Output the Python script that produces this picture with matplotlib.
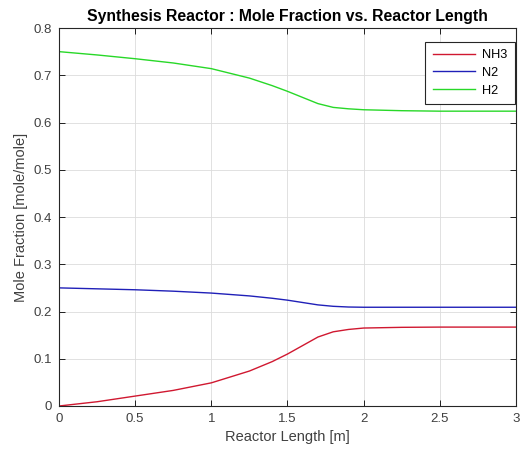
import numpy as np
import matplotlib.pyplot as plt

plt.rcParams['font.family'] = ['Liberation Sans', 'DejaVu Sans']

# Mole fraction profiles along the reactor
length = [0, 0.25, 0.5, 0.75, 1.0, 1.25, 1.4, 1.5, 1.6, 1.7, 1.8, 1.9, 2.0, 2.25, 2.5, 2.75, 3.0]
nh3 = [0, 0.009, 0.021, 0.033, 0.049, 0.074, 0.094, 0.110, 0.128, 0.146, 0.157, 0.162, 0.165, 0.1665, 0.167, 0.167, 0.167]
n2 = [0.250, 0.248, 0.246, 0.243, 0.239, 0.233, 0.228, 0.224, 0.219, 0.214, 0.211, 0.2095, 0.209, 0.209, 0.209, 0.209, 0.209]
h2 = [0.750, 0.743, 0.735, 0.726, 0.714, 0.694, 0.678, 0.666, 0.653, 0.640, 0.632, 0.629, 0.627, 0.625, 0.624, 0.624, 0.624]

fig = plt.figure(figsize=(5.23, 4.57), dpi=100)
ax = fig.add_axes([0.1128, 0.1116, 0.8738, 0.8271])

ax.plot(length, nh3, color='#d01830', lw=1, label='NH3')
ax.plot(length, n2, color='#2020b8', lw=1, label='N2')
ax.plot(length, h2, color='#28d828', lw=1, label='H2')

ax.set_xlim(0, 3)
ax.set_ylim(0, 0.8)
ax.set_xticks(np.arange(0, 3.01, 0.5))
ax.set_xticklabels(['0', '0.5', '1', '1.5', '2', '2.5', '3'])
ax.set_yticks(np.arange(0, 0.81, 0.1))
ax.set_yticklabels(['0', '0.1', '0.2', '0.3', '0.4', '0.5', '0.6', '0.7', '0.8'])
ax.tick_params(direction='in', top=True, right=True, labelsize=9.5,
               labelcolor='#404040', length=4, width=0.6, pad=5)
ax.grid(True, color='#dcdcdc', lw=0.6)
for s in ax.spines.values():
    s.set_linewidth(0.8)
    s.set_color('#262626')

ax.set_title('Synthesis Reactor : Mole Fraction vs. Reactor Length',
             fontsize=11.3, fontweight='bold', pad=5)
ax.set_xlabel('Reactor Length [m]', fontsize=10.5, color='#404040')
ax.set_ylabel('Mole Fraction [mole/mole]', fontsize=10.5, color='#404040')

leg = ax.legend(loc='upper right', bbox_to_anchor=(0.997, 0.963), borderaxespad=0,
                fontsize=9.2, fancybox=False, framealpha=1, edgecolor='#262626',
                handlelength=3.3, borderpad=0.55, labelspacing=0.45,
                handletextpad=0.6)
leg.get_frame().set_linewidth(0.8)

fig.savefig('out.png', dpi=100)
